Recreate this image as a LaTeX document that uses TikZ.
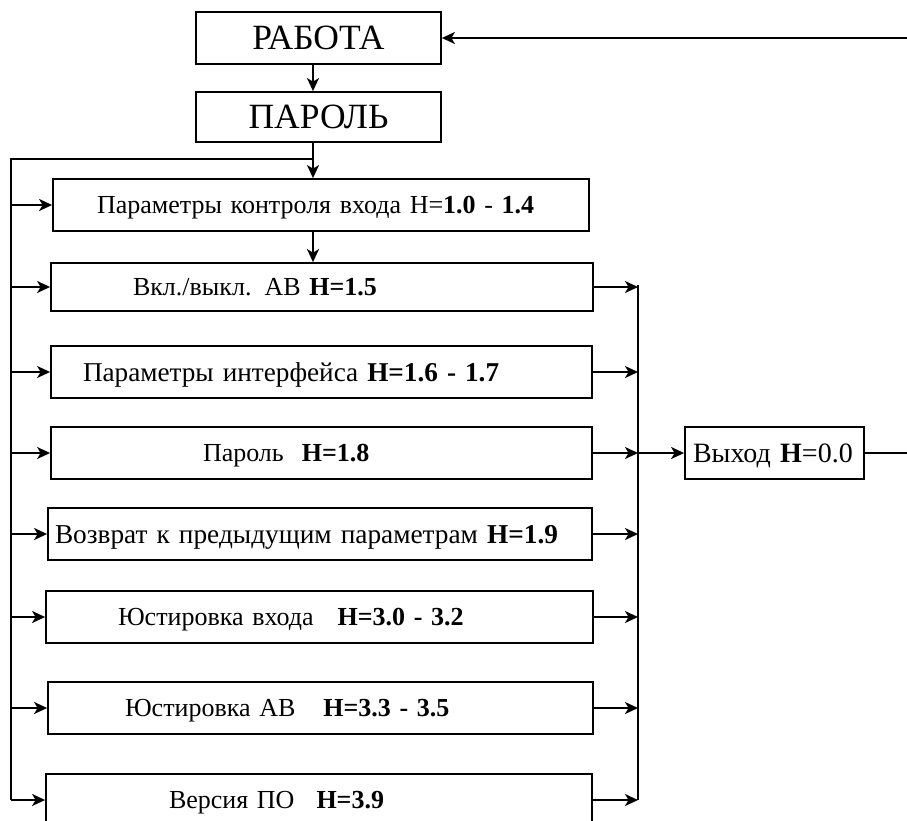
\documentclass[tikz,border=0pt]{standalone}
\usepackage{fontspec}
\setmainfont{Liberation Serif}
\usetikzlibrary{arrows.meta}
\setlength{\parindent}{0pt}
\begin{document}
\begin{tikzpicture}[x=1pt,y=-1pt,
  line width=1.8pt,
  arr/.style={-{Stealth[length=13pt,width=12pt,inset=3.5pt]}},
  box/.style={draw, inner xsep=0pt, inner ysep=0pt, align=left, text depth=0pt,
    font=\fontsize{26}{30}\selectfont},
  big/.style={draw, inner sep=0pt, text depth=0pt, font=\fontsize{35.5}{40}\selectfont},
]
\useasboundingbox[fill=white] (0,0) rectangle (907,820);

% top boxes
\node[big, minimum width=245pt, minimum height=52pt] (rab) at (318.5,38) {РАБОТА};
\node[big, minimum width=245pt, minimum height=50pt] (par) at (318.5,117) {ПАРОЛЬ};

% menu items
\node[box, text width=536pt, minimum height=52pt] (b1) at (321,205)
  {\hspace*{44pt}Параметры контроля входа Н=\textbf{1.0} - \textbf{1.4}};
\node[box, text width=542pt, minimum height=48pt] (b2) at (322,287)
  {\hspace*{82pt}Вкл./выкл. АВ \textbf{Н=1.5}};
\node[box, text width=541pt, minimum height=52pt, font=\fontsize{27.2}{30}\selectfont] (b3) at (321.5,372)
  {\hspace*{32pt}Параметры интерфейса \textbf{Н=1.6 - 1.7}};
\node[box, text width=541pt, minimum height=52pt] (b4) at (321.5,453)
  {\hspace*{152pt}Пароль\hspace{18pt}\textbf{Н=1.8}};
\node[box, text width=544pt, minimum height=52pt, font=\fontsize{27.3}{30}\selectfont] (b5) at (320,534)
  {\hspace*{7pt}Возврат к предыдущим параметрам \textbf{Н=1.9}};
\node[box, text width=547pt, minimum height=52pt] (b6) at (319.5,617)
  {\hspace*{72pt}Юстировка входа\hspace{24pt}\textbf{Н=3.0 - 3.2}};
\node[box, text width=545pt, minimum height=52pt] (b7) at (320.5,708)
  {\hspace*{77pt}Юстировка АВ\hspace{28pt}\textbf{Н=3.3 - 3.5}};
\node[box, text width=546pt, minimum height=52pt] (b8) at (319,800)
  {\hspace*{123pt}Версия ПО\hspace{22pt}\textbf{Н=3.9}};

% exit
\node[box, text width=179pt, minimum height=52pt, font=\fontsize{28}{30}\selectfont] (ex) at (774.5,453)
  {\hspace*{8pt}Выход \textbf{Н}=0.0};

% buses and junctions
\coordinate (spine) at (313,0);
\coordinate (lbus) at (11,0);
\coordinate (rbus) at (638,0);
\coordinate (jtop) at (313,159);
\coordinate (rtop) at (638,285);
\coordinate (fbin) at (907,38);
\coordinate (fbout) at (907,453);

\draw[arr] (rab.south -| spine) -- (par.north -| spine);
\draw[arr] (par.south -| spine) -- (b1.north -| spine);
\draw[arr] (b1.south -| spine) -- (b2.north -| spine);
\draw[arr] (fbin) -- (fbin -| rab.east);

% left return bus
\draw (jtop) -- (jtop -| lbus) -- (b8.west -| lbus);
\foreach \b in {b1,b2,b3,b4,b5,b6,b7,b8}
  \draw[arr] (\b.west -| lbus) -- (\b.west);

% right collecting bus
\draw (rtop) -- (b8.east -| rbus);
\foreach \b in {b2,b3,b4,b5,b6,b7,b8}
  \draw[arr] (\b.east) -- (\b.east -| rbus);
\draw[arr] (ex.west -| rbus) -- (ex.west);
\draw (ex.east) -- (fbout);
\end{tikzpicture}
\end{document}
